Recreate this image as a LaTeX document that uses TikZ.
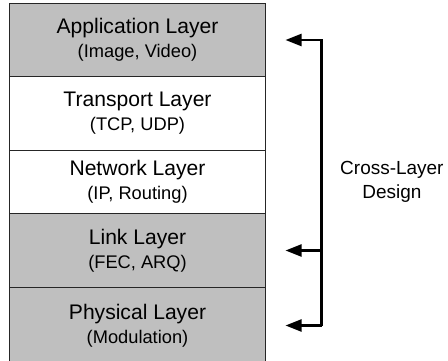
\documentclass[tikz,border=0pt]{standalone}
\usepackage{fontspec}
\setmainfont{Liberation Sans}
\usetikzlibrary{positioning}
\usetikzlibrary{arrows.meta}
\newcommand{\subtxt}[1]{{\fontsize{13}{16}\selectfont #1}}
\tikzset{layer/.style={rectangle, draw=black!85, line width=1.1pt, minimum width=6.4cm,
   inner sep=0pt, outer sep=0pt, align=center,
   font=\fontsize{15}{17}\selectfont}}
\tikzset{shaded/.style={layer, fill=black!25}}
\tikzset{xlink/.style={line width=1.6pt, line join=miter,
   -{Triangle[length=0.4cm, width=0.3cm]}}}

\begin{document}
\begin{tikzpicture}

    \useasboundingbox (0,0) rectangle (11.2,-9);

    % protocol stack
    \node[shaded, minimum height=1.825cm, anchor=north west] (app) at (0.2375,-0.0875)
        {Application Layer\\ \subtxt{(Image, Video)}};
    \node[layer, minimum height=1.85cm, below=0pt of app] (trans)
        {Transport Layer\\ \subtxt{(TCP, UDP)}};
    \node[layer, minimum height=1.575cm, below=0pt of trans] (net)
        {Network Layer\\ \subtxt{(IP, Routing)}};
    \node[shaded, minimum height=1.85cm, below=0pt of net] (link)
        {Link Layer\\ \subtxt{(FEC, ARQ)}};
    \node[shaded, minimum height=1.9cm, below=0pt of link] (phy)
        {Physical Layer\\ \subtxt{(Modulation)}};

    % cross-layer bus
    \coordinate (busT) at ([xshift=1.4cm]app.east);
    \coordinate (busB) at (busT |- phy.east);
    \draw[xlink] (busB) -- (busT) -- ([xshift=0.5cm]app.east);
    \draw[xlink] (busT |- link.east) -- ([xshift=0.5cm]link.east);
    \draw[xlink] (busB) -- ([xshift=0.5cm]phy.east);

    \node[align=center, font=\fontsize{13.5}{17}\selectfont] (xl) at ([xshift=3.16cm]net.east)
        {Cross-Layer\\Design};

  \end{tikzpicture}
\end{document}
